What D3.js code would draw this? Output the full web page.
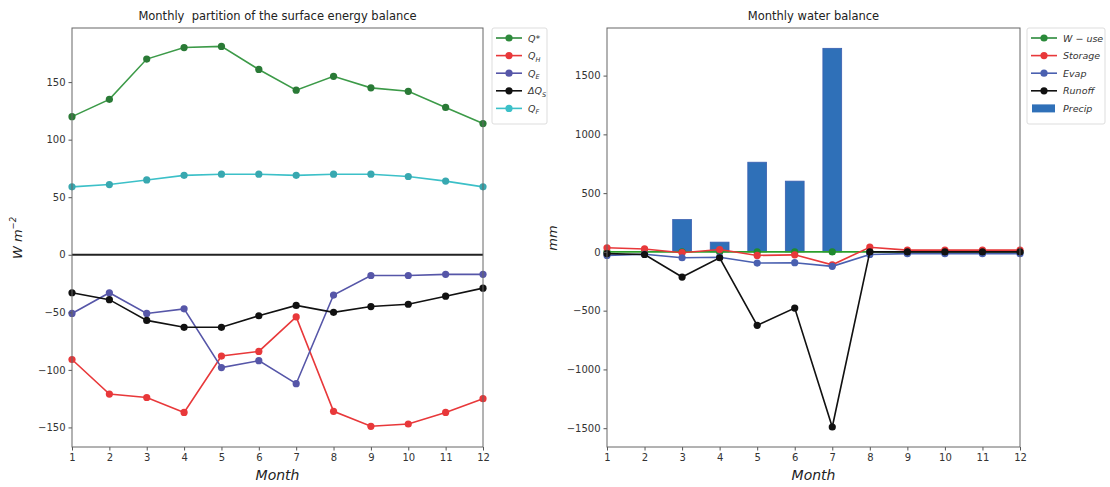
<!DOCTYPE html>
<html>
<head>
<meta charset="utf-8">
<script src="https://cdn.jsdelivr.net/npm/d3@7"></script>
<style>
  body { margin: 0; background: #fff; }
  text { font-family: "DejaVu Sans", sans-serif; }
</style>
</head>
<body>
<div id="chart"></div>
<script>
// months on the x axis
var months = [1, 2, 3, 4, 5, 6, 7, 8, 9, 10, 11, 12];

// energy balance (W m-2)
var qStar = [120, 135, 170, 180, 181, 161, 143, 155, 145, 142, 128, 114];
var qH = [-91, -121, -124, -137, -88, -84, -54, -136, -149, -147, -137, -125];
var qE = [-51, -33, -51, -47, -98, -92, -112, -35, -18, -18, -17, -17];
var dQs = [-33, -39, -57, -63, -63, -53, -44, -50, -45, -43, -36, -29];
var qF = [59, 61, 65, 69, 70, 70, 69, 70, 70, 68, 64, 59];

// water balance (mm)
var wUse = [0, 0, 0, 0, 0, 0, 0, 0, 0, 0, 0, 0];
var storage = [35, 25, -7, 20, -30, -25, -110, 40, 15, 15, 15, 15];
var evap = [-30, -20, -50, -45, -95, -92, -123, -22, -15, -15, -15, -15];
var runoff = [-15, -22, -214, -50, -625, -478, -1490, 0, 0, 0, 0, 0];
var precip = [0, 0, 275, 83, 763, 602, 1732, 0, 0, 0, 0, 0];

var leftTicks = [-150, -100, -50, 0, 50, 100, 150];
var rightTicks = [-1500, -1000, -500, 0, 500, 1000, 1500];

var width = 1110, height = 487;

var svg = d3.select("#chart")
    .append("svg")
    .attr("width", width)
    .attr("height", height);

function drawPanel(opt)
{
    var x = d3.scaleLinear().domain([1, 12]).range([opt.x0, opt.x1]);
    var y = d3.scaleLinear().domain(opt.yDomain).range([447, 28]);
    var g = svg.append("g");

    // bars first (precip)
    if (opt.bars)
    {
        var bw = (x(2) - x(1)) * 0.5;
        g.selectAll(".bar")
          .data(opt.bars.values)
          .enter()
          .append("rect")
          .attr("x", function(d, i) { return x(months[i]) - bw / 2; })
          .attr("y", function(d) { return y(Math.max(0, d)); })
          .attr("width", bw)
          .attr("height", function(d) { return Math.abs(y(d) - y(0)); })
          .attr("fill", opt.bars.color)
          .attr("stroke", "#3a5fb0")
          .attr("stroke-width", 0.8);
    }

    if (opt.zeroLine)
    {
        g.append("line")
          .attr("x1", opt.x0).attr("x2", opt.x1)
          .attr("y1", y(0)).attr("y2", y(0))
          .attr("stroke", "#222")
          .attr("stroke-width", 2);
    }

    var line = d3.line()
        .x(function(d, i) { return x(months[i]); })
        .y(function(d) { return y(d); });

    opt.series.forEach(function(s)
    {
        g.append("path")
          .datum(s.values)
          .attr("d", line)
          .attr("fill", "none")
          .attr("stroke", s.color)
          .attr("stroke-width", 1.6);
        g.selectAll(null)
          .data(s.values)
          .enter()
          .append("circle")
          .attr("cx", function(d, i) { return x(months[i]); })
          .attr("cy", function(d) { return y(d); })
          .attr("r", 3.6)
          .attr("fill", s.marker || s.color);
    });

    // axes
    var xAxis = d3.axisBottom(x).tickValues(months).tickSize(3.5).tickPadding(3);
    var yAxis = d3.axisLeft(y).tickValues(opt.ticks).tickSize(3.5).tickPadding(3)
        .tickFormat(function(d) { return d < 0 ? "\u2212" + Math.abs(d) : d; });

    var gx = g.append("g").attr("transform", "translate(0,447)").call(xAxis);
    var gy = g.append("g").attr("transform", "translate(" + opt.x0 + ",0)").call(yAxis);
    [gx, gy].forEach(function(a)
    {
        a.select(".domain").remove();
        a.selectAll("line").attr("stroke", "#555");
        a.selectAll("text").attr("font-size", "10px").attr("fill", "#333");
    });

    g.append("rect")
      .attr("x", opt.x0).attr("y", 28)
      .attr("width", opt.x1 - opt.x0).attr("height", 419)
      .attr("fill", "none")
      .attr("stroke", "#666")
      .attr("stroke-width", 1);

    g.append("text")
      .attr("x", (opt.x0 + opt.x1) / 2)
      .attr("y", 20)
      .attr("text-anchor", "middle")
      .attr("font-size", "11.5px")
      .attr("fill", "#222")
      .style("white-space", "pre")
      .text(opt.title);

    g.append("text")
      .attr("x", (opt.x0 + opt.x1) / 2)
      .attr("y", 480)
      .attr("text-anchor", "middle")
      .attr("font-size", "14px")
      .attr("font-style", "italic")
      .attr("fill", "#222")
      .text("Month");

    var yl = g.append("text")
      .attr("transform", "translate(" + opt.yLabelX + ",238) rotate(-90)")
      .attr("text-anchor", "middle")
      .attr("font-size", "13px")
      .attr("font-style", "italic")
      .attr("fill", "#222");
    opt.yLabel(yl);

    // legend
    var lg = g.append("g");
    var items = opt.legend;
    lg.append("rect")
      .attr("x", opt.legX).attr("y", 28)
      .attr("width", opt.legW).attr("height", items.length * 17.6 + 8)
      .attr("fill", "#fff")
      .attr("stroke", "#ddd")
      .attr("rx", 2);
    items.forEach(function(it, i)
    {
        var ly = 38 + i * 17.6;
        if (it.bar)
        {
            lg.append("rect")
              .attr("x", opt.legX + 5).attr("y", ly - 4)
              .attr("width", 23).attr("height", 8)
              .attr("fill", it.color);
        }
        else
        {
            lg.append("line")
              .attr("x1", opt.legX + 4).attr("x2", opt.legX + 30)
              .attr("y1", ly).attr("y2", ly)
              .attr("stroke", it.color).attr("stroke-width", 1.6);
            lg.append("circle")
              .attr("cx", opt.legX + 17).attr("cy", ly).attr("r", 3.6)
              .attr("fill", it.color);
        }
        var t = lg.append("text")
          .attr("x", opt.legX + 36).attr("y", ly + 3.5)
          .attr("font-size", "9.5px")
          .attr("font-style", "italic")
          .attr("fill", "#333");
        it.label(t);
    });
}

function sub(main, s)
{
    return function(t)
    {
        t.append("tspan").text(main);
        t.append("tspan").attr("font-size", "6.5px").attr("dy", 2.5).text(s);
    };
}
function plain(s) { return function(t) { t.text(s); }; }

drawPanel({
    x0: 72, x1: 483,
    yDomain: [-167, 197],
    ticks: leftTicks,
    zeroLine: true,
    title: "Monthly  partition of the surface energy balance",
    yLabelX: 22,
    yLabel: function(t)
    {
        t.append("tspan").text("W m");
        t.append("tspan").attr("font-size", "8.5px").attr("dy", -6).text("\u22122");
    },
    series: [
        { values: qStar, color: "#3c9a48", marker: "#2a7a36" },
        { values: qH, color: "#e8383a" },
        { values: qE, color: "#5656a8" },
        { values: dQs, color: "#111" },
        { values: qF, color: "#3cc0c8", marker: "#38a8b0" }
    ],
    legX: 492, legW: 55,
    legend: [
        { color: "#2e8a3c", label: plain("Q*") },
        { color: "#e8383a", label: sub("Q", "H") },
        { color: "#5656a8", label: sub("Q", "E") },
        { color: "#111", label: sub("\u0394Q", "S") },
        { color: "#3cc0c8", label: sub("Q", "F") }
    ]
});

drawPanel({
    x0: 607, x1: 1020,
    yDomain: [-1660, 1905],
    ticks: rightTicks,
    zeroLine: false,
    title: "Monthly water balance",
    yLabelX: 557,
    yLabel: plain("mm"),
    bars: { values: precip, color: "#2f70b8" },
    series: [
        { values: wUse, color: "#2ca02c", marker: "#1f8a2f" },
        { values: storage, color: "#e8383a" },
        { values: evap, color: "#4a60b0" },
        { values: runoff, color: "#111" }
    ],
    legX: 1027, legW: 78,
    legend: [
        { color: "#2a8a3a", label: plain("W \u2212 use") },
        { color: "#e8383a", label: plain("Storage") },
        { color: "#4a60b0", label: plain("Evap") },
        { color: "#111", label: plain("Runoff") },
        { color: "#2f70b8", bar: true, label: plain("Precip") }
    ]
});
</script>
</body>
</html>
